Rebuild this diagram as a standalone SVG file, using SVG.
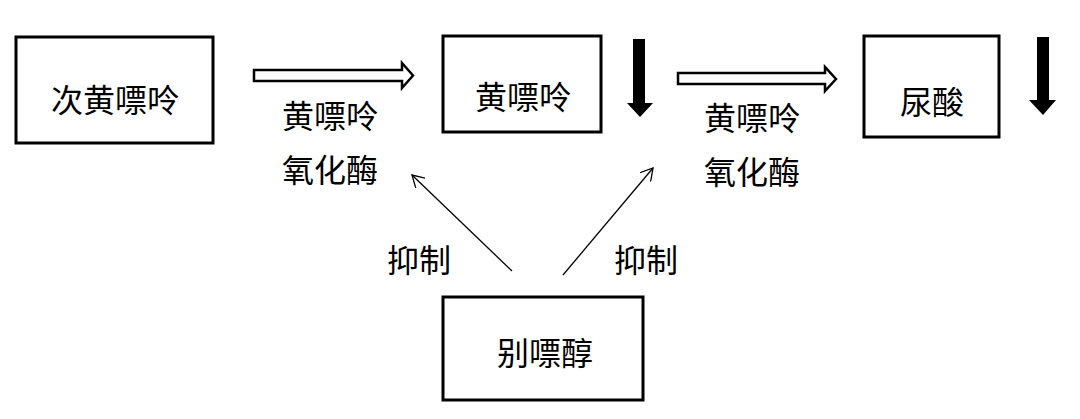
<svg xmlns="http://www.w3.org/2000/svg" width="1080" height="419" viewBox="0 0 1080 419">
<defs>
<style>
.box{fill:#fff;stroke:#000;stroke-width:3}
.t{font-family:"Noto Sans CJK SC","Noto Sans CJK JP",sans-serif;font-size:32px;fill:#000;text-anchor:middle}
.thin{fill:none;stroke:#000;stroke-width:1.3}
.hollow{fill:#fff;stroke:#000;stroke-width:2.5;stroke-linejoin:miter}
</style>
<marker id="open" markerWidth="14" markerHeight="14" refX="12" refY="7" orient="auto" markerUnits="userSpaceOnUse">
<path d="M0,0 L12,7 L0,14" fill="none" stroke="#000" stroke-width="1.3"/>
</marker>
</defs>
<rect width="1080" height="419" fill="#fff"/>
<g id="node-hypoxanthine"><rect class="box" x="16" y="37" width="197" height="106"/><text class="t" x="115" y="112">次黄嘌呤</text></g>
<g id="node-xanthine"><rect class="box" x="443" y="36" width="158" height="96"/><text class="t" x="523" y="109">黄嘌呤</text></g>
<g id="node-uricacid"><rect class="box" x="864" y="36" width="135" height="101"/><text class="t" x="932" y="114">尿酸</text></g>
<g id="node-allopurinol"><rect class="box" x="443" y="297" width="200" height="103"/><text class="t" x="545" y="365">别嘌醇</text></g>
<g id="labels">
<text class="t" x="330" y="128">黄嘌呤</text>
<text class="t" x="330" y="182">氧化酶</text>
<text class="t" x="752" y="130">黄嘌呤</text>
<text class="t" x="752" y="184">氧化酶</text>
<text class="t" x="419" y="272">抑制</text>
<text class="t" x="646" y="272">抑制</text>
</g>
<g id="connectors">
<path class="hollow" d="M254,70 L402,70 L402,63 L413,75.5 L402,88 L402,81 L254,81 Z"/>
<path class="hollow" d="M678,73 L825,73 L825,67 L836,79 L825,91 L825,84 L678,84 Z"/>
<path d="M633,39 L645,39 L645,103 L653,103 L640,117 L627,103 L633,103 Z" fill="#000"/>
<path d="M1037,37 L1049,37 L1049,100 L1056,100 L1043,115 L1029,100 L1037,100 Z" fill="#000"/>
<line class="thin" x1="512" y1="271" x2="412" y2="175" marker-end="url(#open)"/>
<line class="thin" x1="563" y1="275" x2="653" y2="168" marker-end="url(#open)"/>
</g>
</svg>
